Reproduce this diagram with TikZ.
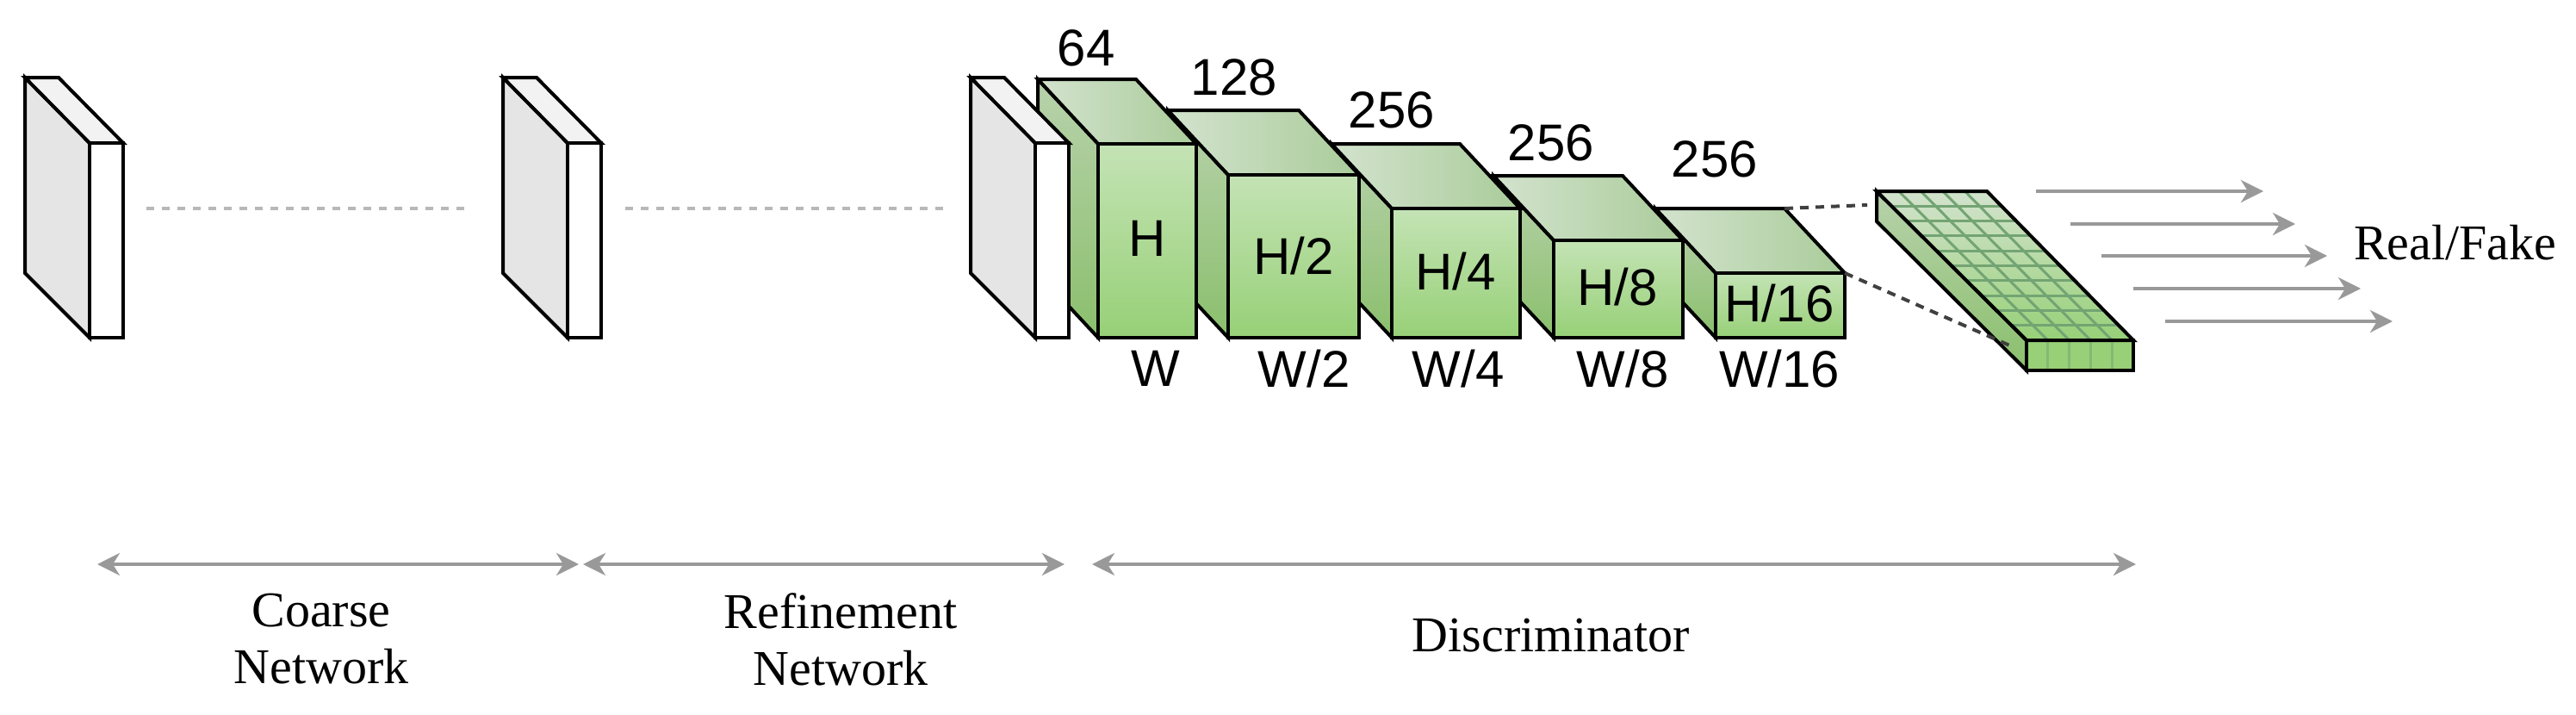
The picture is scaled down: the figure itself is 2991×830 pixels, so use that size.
\documentclass[tikz,border=0pt]{standalone}
\usepackage{fontspec}
\setmainfont{Liberation Serif}
\newfontfamily\sansf{Liberation Sans}
\usetikzlibrary{arrows.meta,calc}
\definecolor{gfront1}{HTML}{C4E3B5}
\definecolor{gfront2}{HTML}{97D077}
\definecolor{gtop1}{HTML}{D3E3CE}
\definecolor{gtop2}{HTML}{AACC9A}
\definecolor{gside1}{HTML}{B8D2AC}
\definecolor{gside2}{HTML}{8ABF6C}
\definecolor{arr}{HTML}{999999}
\tikzset{
  faceedge/.style={draw=black,line width=4pt,line join=miter},
  lab/.style={font=\sansf\fontsize{60}{60}\selectfont,inner sep=0},
  captxt/.style={font=\fontsize{58}{66}\selectfont,align=center,inner sep=0},
  outarr/.style={draw=arr,line width=4pt,-{Stealth[length=26pt,width=26pt,inset=8pt]}},
  spanarr/.style={draw=arr,line width=4pt,{Stealth[length=26pt,width=26pt,inset=8pt]}-{Stealth[length=26pt,width=26pt,inset=8pt]}},
  dotline/.style={draw=arr!70,line width=4pt,dash pattern=on 9pt off 9pt},
  projline/.style={draw=black!75,line width=4pt,dash pattern=on 10pt off 8pt},
  gridline/.style={draw=green!35!black!55,line width=3pt},
}
% plate: front left x
\newcommand{\myplate}[1]{%
  \fill[black!10,faceedge] (#1-75,90) -- (#1,166) -- (#1,392) -- (#1-75,317) -- cycle;
  \fill[black!5,faceedge] (#1-75,90) -- (#1-36,90) -- (#1+39,166) -- (#1,166) -- cycle;
  \fill[white,faceedge] (#1,166) rectangle (#1+39,392);}
% green box: front left x, front right x, front top y
\newcommand{\mybox}[3]{%
  \shade[top color=gside1,bottom color=gside2] (#1-70,#3-75) -- (#1,#3) -- (#1,392) -- (#1-70,317) -- cycle;
  \draw[faceedge] (#1-70,#3-75) -- (#1,#3) -- (#1,392) -- (#1-70,317) -- cycle;
  \shade[left color=gtop1,right color=gtop2] (#1-70,#3-75) -- (#2-70,#3-75) -- (#2,#3) -- (#1,#3) -- cycle;
  \draw[faceedge] (#1-70,#3-75) -- (#2-70,#3-75) -- (#2,#3) -- (#1,#3) -- cycle;
  \shade[top color=gfront1,bottom color=gfront2] (#1,#3) rectangle (#2,392);
  \draw[faceedge] (#1,#3) rectangle (#2,392);}
\begin{document}
\begin{tikzpicture}[x=1pt,y=-1pt]
\useasboundingbox (0,0) rectangle (2991,830);
% plates
\myplate{104}
\myplate{659}
% dotted links
\coordinate (d1a) at (170,242); \coordinate (d1b) at (547,242);
\coordinate (d2a) at (726,242); \coordinate (d2b) at (1103,242);
\draw[dotline] (d1a) -- (d1b);
\draw[dotline] (d2a) -- (d2b);
% patch
\coordinate (A) at (2179,222); \coordinate (B) at (2307,222);
\coordinate (C) at (2477,395); \coordinate (D) at (2353,395);
\shade[top color=gside1,bottom color=gside2] (A) -- (D) -- (2353,430) -- (2179,257) -- cycle;
\draw[faceedge] (A) -- (D) -- (2353,430) -- (2179,257) -- cycle;
\shade[top color=gtop1,bottom color=gfront2] (A) -- (B) -- (C) -- (D) -- cycle;
\fill[gfront2] (D) rectangle (2477,430);
\foreach \i in {1,...,4}{
  \draw[gridline] ($(A)!\i/5!(B)$) -- ($(D)!\i/5!(C)$);
  \draw[gridline,draw opacity=0.5] ($(D)!\i/5!(C)$) -- ++(0,35);}
\foreach \j in {1,...,9}{
  \draw[gridline] ($(A)!\j/10!(D)$) -- ($(B)!\j/10!(C)$);}
\draw[faceedge] (A) -- (B) -- (C) -- (D) -- cycle;
\draw[faceedge] (D) rectangle (2477,430);
% boxes, right to left
\mybox{1992}{2142}{317}
\mybox{1804}{1954}{279}
\mybox{1616}{1765}{242}
\mybox{1426}{1578}{203}
\mybox{1275}{1389}{167}
\myplate{1202}
% dashed projection
\coordinate (p1) at (2072,242); \coordinate (q1) at (2168,238);
\coordinate (p2) at (2142,317); \coordinate (q2) at (2338,403);
\draw[projline] (p1) -- (q1);
\draw[projline] (p2) -- (q2);
% labels
\node[lab] (c1) at (1261,56) {64};
\node[lab] (c2) at (1433,90) {128};
\node[lab] (c3) at (1616,128) {256};
\node[lab] (c4) at (1801,166) {256};
\node[lab] (c5) at (1991,185) {256};
\node[lab] (h1) at (1332,277) {H};
\node[lab] (h2) at (1502,297) {H/2};
\node[lab] (h3) at (1690,315) {H/4};
\node[lab] (h4) at (1878,333) {H/8};
\node[lab] (h5) at (2066,352) {H/16};
\node[lab] (w1) at (1342,428) {W};
\node[lab] (w2) at (1514,428) {W/2};
\node[lab] (w3) at (1693,428) {W/4};
\node[lab] (w4) at (1884,428) {W/8};
\node[lab] (w5) at (2066,428) {W/16};
% output arrows
\coordinate (o1a) at (2364,222); \coordinate (o1b) at (2628,222);
\coordinate (o2a) at (2404,260); \coordinate (o2b) at (2665,260);
\coordinate (o3a) at (2440,297); \coordinate (o3b) at (2702,297);
\coordinate (o4a) at (2477,335); \coordinate (o4b) at (2741,335);
\coordinate (o5a) at (2514,373); \coordinate (o5b) at (2778,373);
\foreach \k in {1,...,5} \draw[outarr] (o\k a) -- (o\k b);
\node[captxt,anchor=west] (rf) at (2733,282) {Real/Fake};
% spans
\coordinate (s1a) at (113,655); \coordinate (s1b) at (672,655);
\coordinate (s2a) at (677,655); \coordinate (s2b) at (1236,655);
\coordinate (s3a) at (1268,655); \coordinate (s3b) at (2480,655);
\draw[spanarr] (s1a) -- (s1b);
\draw[spanarr] (s2a) -- (s2b);
\draw[spanarr] (s3a) -- (s3b);
\node[captxt] (t1) at (373,742) {Coarse\\Network};
\node[captxt] (t2) at (976,742) {Refinement\\Network};
\node[captxt] (t3) at (1801,738) {Discriminator};
\end{tikzpicture}
\end{document}
